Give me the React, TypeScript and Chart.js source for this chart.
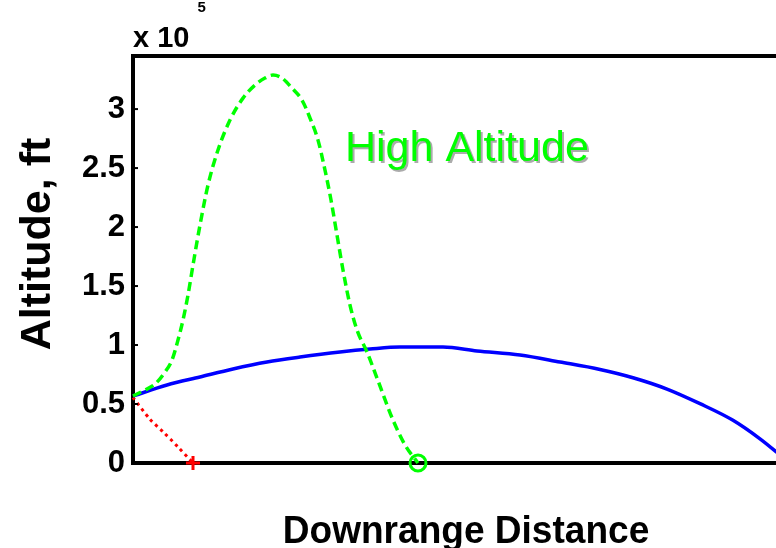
import { useEffect, useRef } from "react";
import { Chart, registerables } from "chart.js";

Chart.register(...registerables);

const FONT = "'Liberation Sans', Arial, Helvetica, sans-serif";

// Downrange distance (arbitrary units) and altitude (ft)
const blueX = [0, 3.4, 6.7, 10.0, 13.4, 16.7, 20.7, 23.7, 26.7, 31.0, 34.4, 38.7, 42.7, 46.7, 50.0, 53.4, 56.7, 60.0, 62.7, 64.3, 65.6];
const blueY = [56800, 66100, 72900, 79700, 85600, 89800, 94100, 96600, 98300, 98300, 94900, 91500, 85600, 79300, 72300, 62700, 50300, 36200, 20500, 9600, 0];

const greenX = [0, 1.2, 2.2, 3.2, 3.9, 4.5, 5.0, 5.5, 6.0, 6.7, 7.5, 8.5, 9.7, 11.0, 12.2, 13.2, 14.0, 14.9, 15.9, 16.9, 17.7, 18.5, 19.2, 19.8, 20.4, 21.0, 21.7, 22.4, 23.4, 24.4, 26.0, 27.2, 28.5];
const greenY = [56800, 61900, 66900, 77100, 87300, 104200, 121200, 142400, 167800, 201700, 235600, 265300, 290700, 309300, 320300, 326300, 328800, 326300, 317800, 307600, 292400, 273700, 248300, 222900, 193200, 163600, 133900, 112700, 94100, 72000, 36400, 15300, 0];

const redX = [0, 1.7, 3.0, 4.5, 6.0];
const redY = [55500, 37000, 26500, 13600, 0];

const yTicks = [0, 50000, 100000, 150000, 200000, 250000, 300000];
const yMax = 345000;
const xMax = 66.6;

const xTitle = "Downrange Distance";
const yTitle = "Altitude, ft";
const expBase = "x 10";
const expPower = "5";
const annotation = "High Altitude";

const PLOT_LEFT = 133;
const PLOT_RIGHT = 799;

const toPts = (xs: number[], ys: number[]) => xs.map((x, i) => ({ x, y: ys[i] }));

const decor = {
  id: "decor",
  afterDraw(chart: any) {
    const { ctx, chartArea: a, scales } = chart;
    const y = scales.y;
    const x = scales.x;
    ctx.save();
    ctx.strokeStyle = "#000";
    ctx.lineWidth = 4;
    ctx.beginPath();
    ctx.moveTo(a.left - 2, a.top);
    ctx.lineTo(a.right + 2, a.top);
    ctx.stroke();
    ctx.beginPath();
    ctx.moveTo(a.right, a.top);
    ctx.lineTo(a.right, a.bottom);
    ctx.stroke();

    ctx.lineWidth = 2;
    y.ticks.forEach((t: any) => {
      const py = y.getPixelForValue(t.value);
      ctx.beginPath();
      ctx.moveTo(a.left, py);
      ctx.lineTo(a.left + 5, py);
      ctx.stroke();
    });

    ctx.fillStyle = "#000";
    ctx.textAlign = "left";
    ctx.textBaseline = "alphabetic";
    ctx.font = "bold 29px " + FONT;
    ctx.fillText(expBase, a.left, 47);
    const w = ctx.measureText(expBase).width;
    ctx.font = "bold 15px " + FONT;
    ctx.fillText(expPower, a.left + w + 8, 12);

    // annotation with shadow
    ctx.font = "43px " + FONT;
    ctx.fillStyle = "rgba(150,150,150,0.8)";
    const ax = x.getPixelForValue(21.2);
    const ay = y.getPixelForValue(256000);
    ctx.fillText(annotation, ax + 2, ay + 2);
    ctx.fillStyle = "#00ff00";
    ctx.fillText(annotation, ax, ay);

    // x title
    ctx.save();
    ctx.fillStyle = "#000";
    ctx.font = "bold 39px " + FONT;
    ctx.textAlign = "center";
    ctx.translate(466, 543);
    ctx.scale(0.95, 1);
    ctx.fillText(xTitle, 0, 0);
    ctx.restore();

    // y title
    ctx.save();
    ctx.fillStyle = "#000";
    ctx.font = "bold 43px " + FONT;
    ctx.textAlign = "center";
    ctx.translate(50, 244);
    ctx.rotate(-Math.PI / 2);
    ctx.fillText(yTitle, 0, 0);
    ctx.restore();

    ctx.restore();
  },
};

// force the plot area to the measured frame
const frame = {
  id: "frame",
  afterLayout(chart: any) {
    const a = chart.chartArea;
    const x = chart.scales.x;
    a.left = PLOT_LEFT;
    a.right = PLOT_RIGHT;
    x.left = PLOT_LEFT;
    x.right = PLOT_RIGHT;
    x.width = PLOT_RIGHT - PLOT_LEFT;
    x.configure();
  },
};

export default function App() {
  const ref = useRef<HTMLCanvasElement | null>(null);
  useEffect(() => {
    const canvas = ref.current!;
    const lastOnly = (n: number, r: number) => (c: any) => (c.dataIndex === n - 1 ? r : 0);
    const chart = new Chart(canvas, {
      type: "line",
      data: {
        datasets: [
          {
            data: toPts(greenX, greenY),
            borderColor: "#00ff00",
            borderWidth: 3.5,
            borderDash: [9, 5],
            cubicInterpolationMode: "monotone",
            pointStyle: "circle",
            pointRadius: lastOnly(greenX.length, 8),
            pointBorderWidth: 3,
            pointBorderColor: "#00ff00",
            pointBackgroundColor: "rgba(0,0,0,0)",
            clip: false,
          } as any,
          {
            data: toPts(blueX, blueY),
            borderColor: "#0000ff",
            borderWidth: 3.5,
            cubicInterpolationMode: "monotone",
            pointRadius: 0,
            clip: false,
          } as any,
          {
            data: toPts(redX, redY),
            borderColor: "#ff0000",
            borderWidth: 3,
            borderDash: [3, 4],
            tension: 0.2,
            pointStyle: "cross",
            pointRadius: lastOnly(redX.length, 7),
            pointBorderWidth: 3,
            pointBorderColor: "#ff0000",
            clip: false,
          } as any,
        ],
      },
      options: {
        responsive: false,
        animation: false,
        events: [],
        layout: { padding: { top: 56, right: 1, left: 0, bottom: 0 } },
        plugins: { legend: { display: false }, tooltip: { enabled: false } },
        scales: {
          x: {
            type: "linear",
            min: 0,
            max: xMax,
            grid: { display: false, drawTicks: false },
            border: { display: true, color: "#000", width: 4 },
            ticks: { display: false },
            afterFit: (s: any) => {
              s.height = 85;
            },
          },
          y: {
            type: "linear",
            min: 0,
            max: yMax,
            grid: { display: false, drawTicks: false },
            border: { display: true, color: "#000", width: 4 },
            afterBuildTicks: (s: any) => {
              s.ticks = yTicks.map((v) => ({ value: v }));
            },
            ticks: {
              autoSkip: false,
              padding: 8,
              color: "#000",
              font: { family: FONT, size: 31, weight: "bold" },
              callback: (v: any) => String(Number(v) / 1e5),
            },
            afterFit: (s: any) => {
              s.width = 133;
            },
          },
        },
      },
      plugins: [frame, decor],
    });
    return () => chart.destroy();
  }, []);
  return (
    <div style={{ position: "fixed", left: 0, top: 0, width: 776, height: 548, overflow: "hidden", background: "#fff" }}>
      <canvas ref={ref} width={800} height={548} style={{ display: "block", width: 800, height: 548 }} />
    </div>
  );
}
